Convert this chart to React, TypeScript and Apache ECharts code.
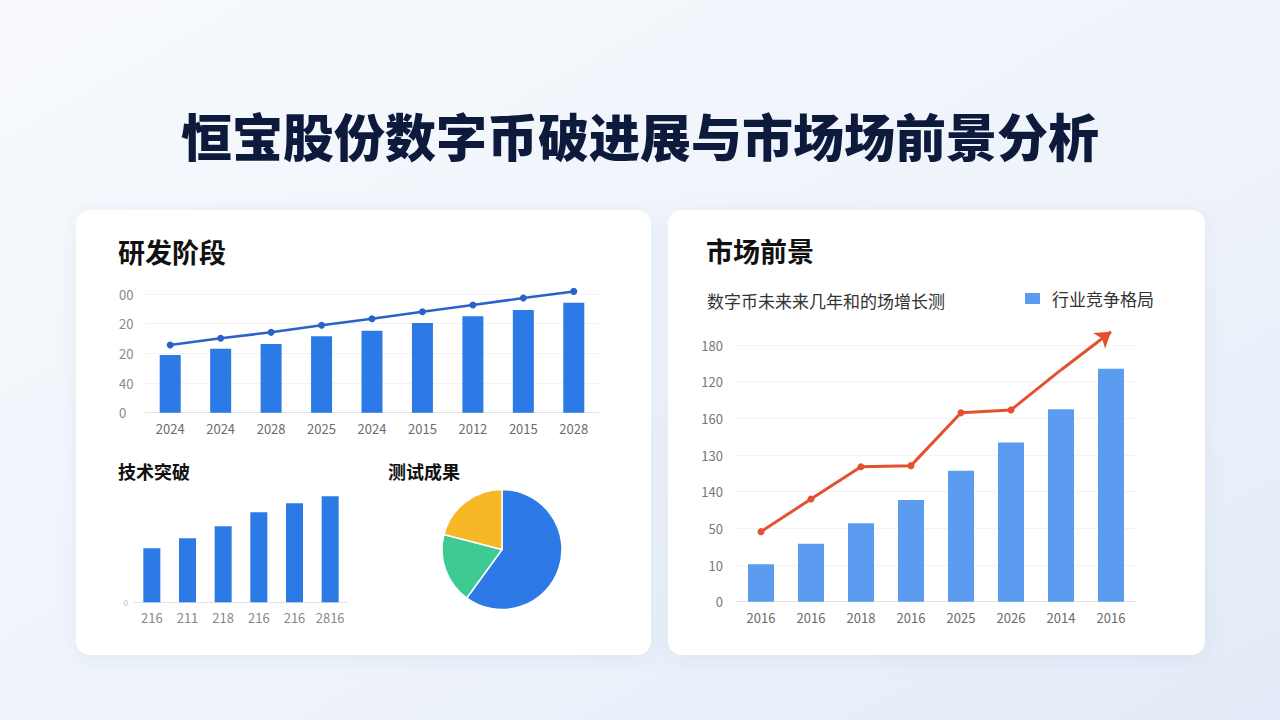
import React, { useEffect, useRef } from "react";
import * as echarts from "echarts";

// ---- Data ----
const rdCategories = ["2024", "2024", "2028", "2025", "2024", "2015", "2012", "2015", "2028"];
const rdBars = [48.6, 53.9, 57.9, 64.4, 69.1, 75.6, 81.2, 86.5, 92.7];
const rdLine = [57.0, 62.7, 67.7, 73.6, 79.2, 85.1, 90.7, 96.6, 102.2];
const rdTickLabels = ["0", "40", "20", "20", "00"]; // bottom -> top

const techCategories = ["216", "211", "218", "216", "216", "2816"];
const techBars = [54, 64, 76, 90, 99, 106];

const testNames = ["通过", "待测", "优化"];
const testValues = [60, 19, 21];

const mktCategories = ["2016", "2016", "2018", "2016", "2025", "2026", "2014", "2016"];
const mktBars = [10.2, 15.8, 21.4, 27.7, 35.7, 43.4, 52.5, 63.5];
const mktLine = [19.1, 28.0, 36.8, 37.1, 51.5, 52.3, 63.2, 73.6];
const mktTickLabels = ["0", "10", "50", "140", "130", "160", "120", "180"]; // bottom -> top

const FONT = "'Noto Sans CJK SC', 'Noto Sans', sans-serif";

export default function App() {
  const ref = useRef<HTMLDivElement>(null);

  useEffect(() => {
    document.body.style.margin = "0";
    const chart = echarts.init(ref.current!, null, { renderer: "svg" });
    const axisLabelStyle = { color: "#6b6b6b", fontSize: 13, fontFamily: FONT };

    const lineMain = mktLine.map((v, i) => (i <= 6 ? v : "-"));

    chart.setOption({
      animation: false,
      textStyle: { fontFamily: FONT },
      graphic: [
        {
          type: "rect",
          z: -10,
          shape: { x: 0, y: 0, width: 1280, height: 720 },
          style: {
            fill: new echarts.graphic.LinearGradient(0, 0, 1, 1, [
              { offset: 0, color: "#f7f9fd" },
              { offset: 0.6, color: "#eef3fa" },
              { offset: 1, color: "#e3ebf8" },
            ]),
          },
        },
        {
          type: "rect",
          z: -9,
          shape: { x: 76, y: 210, width: 575, height: 445, r: 14 },
          style: { fill: "#ffffff", shadowBlur: 18, shadowColor: "rgba(60,90,150,0.08)", shadowOffsetY: 3 },
        },
        {
          type: "rect",
          z: -9,
          shape: { x: 668, y: 210, width: 537, height: 445, r: 14 },
          style: { fill: "#ffffff", shadowBlur: 18, shadowColor: "rgba(60,90,150,0.08)", shadowOffsetY: 3 },
        },
        {
          type: "text",
          x: 640,
          y: 135,
          style: {
            text: "恒宝股份数字币破进展与市场场前景分析",
            fontSize: 51,
            fontWeight: 900,
            fill: "#0e1a3c",
            align: "center",
            verticalAlign: "middle",
            fontFamily: FONT,
          },
        },
        {
          type: "text",
          x: 118,
          y: 251,
          style: { text: "研发阶段", fontSize: 27, fontWeight: "bold", fill: "#111", verticalAlign: "middle", fontFamily: FONT },
        },
        {
          type: "text",
          x: 118,
          y: 471,
          style: { text: "技术突破", fontSize: 18, fontWeight: "bold", fill: "#111", verticalAlign: "middle", fontFamily: FONT },
        },
        {
          type: "text",
          x: 388,
          y: 471,
          style: { text: "测试成果", fontSize: 18, fontWeight: "bold", fill: "#111", verticalAlign: "middle", fontFamily: FONT },
        },
        {
          type: "text",
          x: 706,
          y: 250,
          style: { text: "市场前景", fontSize: 27, fontWeight: "bold", fill: "#111", verticalAlign: "middle", fontFamily: FONT },
        },
        {
          type: "text",
          x: 707,
          y: 300,
          style: { text: "数字币未来来几年和的场增长测", fontSize: 17, fill: "#333", verticalAlign: "middle", fontFamily: FONT },
        },
      ],
      legend: {
        data: ["行业竞争格局"],
        left: 1025,
        top: 290,
        padding: 0,
        itemWidth: 15,
        itemHeight: 11,
        icon: "rect",
        textStyle: { fontSize: 17, color: "#333", padding: [0, 0, 0, 7], fontFamily: FONT },
      },
      grid: [
        { left: 145, top: 294, width: 454, height: 118.7 },
        { left: 134, top: 482.3, width: 214, height: 120 },
        { left: 736, top: 345, width: 400, height: 256.7 },
      ],
      xAxis: [
        {
          type: "category",
          gridIndex: 0,
          data: rdCategories,
          axisLine: { lineStyle: { color: "#e3e3e3" } },
          axisTick: { show: false },
          axisLabel: { ...axisLabelStyle, margin: 9, interval: 0 },
        },
        {
          type: "category",
          gridIndex: 1,
          data: techCategories,
          axisLine: { lineStyle: { color: "#e3e3e3" } },
          axisTick: { show: false },
          axisLabel: { ...axisLabelStyle, color: "#888", margin: 9, interval: 0 },
        },
        {
          type: "category",
          gridIndex: 2,
          data: mktCategories,
          axisLine: { lineStyle: { color: "#e3e3e3" } },
          axisTick: { show: false },
          axisLabel: { ...axisLabelStyle, margin: 9, interval: 0 },
        },
      ],
      yAxis: [
        {
          type: "value",
          gridIndex: 0,
          min: 0,
          max: 100,
          interval: 25,
          axisLine: { show: false },
          axisTick: { show: false },
          splitLine: { lineStyle: { color: "#f3f3f3" } },
          axisLabel: {
            ...axisLabelStyle,
            color: "#888",
            align: "left",
            margin: 26,
            formatter: (v: number) => rdTickLabels[Math.round(v / 25)] ?? "",
          },
        },
        {
          type: "value",
          gridIndex: 1,
          min: 0,
          max: 120,
          interval: 120,
          axisLine: { show: false },
          axisTick: { show: false },
          splitLine: { show: false },
          axisLabel: {
            color: "#bbb",
            fontSize: 8,
            margin: 6,
            formatter: (v: number) => (v === 0 ? "0" : ""),
          },
        },
        {
          type: "value",
          gridIndex: 2,
          min: 0,
          max: 70,
          interval: 10,
          axisLine: { show: false },
          axisTick: { show: false },
          splitLine: { lineStyle: { color: "#f3f3f3" } },
          axisLabel: {
            ...axisLabelStyle,
            color: "#777",
            margin: 13,
            formatter: (v: number) => mktTickLabels[Math.round(v / 10)] ?? "",
          },
        },
      ],
      series: [
        {
          type: "bar",
          name: "研发投入",
          xAxisIndex: 0,
          yAxisIndex: 0,
          data: rdBars,
          barWidth: 21,
          itemStyle: { color: "#2b7ae6" },
        },
        {
          type: "line",
          name: "研发进度",
          xAxisIndex: 0,
          yAxisIndex: 0,
          data: rdLine,
          clip: false,
          symbol: "circle",
          symbolSize: 7,
          lineStyle: { color: "#2a63c8", width: 2.5 },
          itemStyle: { color: "#2a63c8" },
        },
        {
          type: "bar",
          name: "技术突破",
          xAxisIndex: 1,
          yAxisIndex: 1,
          data: techBars,
          barWidth: 17,
          itemStyle: { color: "#2b7ae6" },
        },
        {
          type: "pie",
          name: "测试成果",
          center: [502, 549.5],
          radius: 60,
          startAngle: 90,
          clockwise: true,
          label: { show: false },
          labelLine: { show: false },
          itemStyle: { borderColor: "#ffffff", borderWidth: 1.5 },
          data: testNames.map((n, i) => ({
            name: n,
            value: testValues[i],
            itemStyle: { color: ["#2d7ae6", "#3ecb93", "#f6b824"][i] },
          })),
        },
        {
          type: "bar",
          name: "行业竞争格局",
          xAxisIndex: 2,
          yAxisIndex: 2,
          data: mktBars,
          barWidth: 26,
          itemStyle: { color: "#5b9cf0" },
        },
        {
          type: "line",
          name: "市场增长",
          xAxisIndex: 2,
          yAxisIndex: 2,
          data: lineMain,
          clip: false,
          symbol: "circle",
          symbolSize: (_v: any, p: any) => (p.dataIndex <= 5 ? 7 : 0),
          lineStyle: { color: "#e4512f", width: 3 },
          itemStyle: { color: "#e4512f" },
        },
        {
          type: "lines",
          name: "市场增长趋势",
          coordinateSystem: "cartesian2d",
          xAxisIndex: 2,
          yAxisIndex: 2,
          clip: false,
          silent: true,
          symbol: ["none", "arrow"],
          symbolSize: 15,
          lineStyle: { color: "#e4512f", width: 3, opacity: 1 },
          data: [{ coords: [[6, mktLine[6]], [7, mktLine[7]]] }],
        },
      ],
    });
    return () => chart.dispose();
  }, []);

  return <div ref={ref} style={{ width: 1280, height: 720 }} />;
}
